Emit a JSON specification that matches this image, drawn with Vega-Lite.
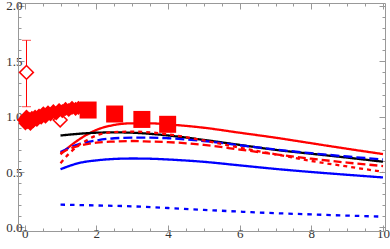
{
  "$schema": "https://vega.github.io/schema/vega-lite/v6.json",
  "width": 367,
  "height": 228,
  "autosize": "none",
  "padding": {"left": 18, "top": 3, "right": 5, "bottom": 18},
  "background": "white",
  "config": {"view": {"stroke": null}},
  "datasets": {
    "curves": [
      {"s": "rs", "x": 1, "y": 0.66}, {"s": "rs", "x": 1.25, "y": 0.73}, {"s": "rs", "x": 1.5, "y": 0.79}, {"s": "rs", "x": 1.75, "y": 0.84}, {"s": "rs", "x": 2, "y": 0.88}, {"s": "rs", "x": 2.5, "y": 0.925}, {"s": "rs", "x": 3, "y": 0.94}, {"s": "rs", "x": 3.5, "y": 0.94}, {"s": "rs", "x": 4, "y": 0.93}, {"s": "rs", "x": 5, "y": 0.9}, {"s": "rs", "x": 6, "y": 0.855}, {"s": "rs", "x": 7, "y": 0.81}, {"s": "rs", "x": 8, "y": 0.76}, {"s": "rs", "x": 9, "y": 0.71}, {"s": "rs", "x": 10, "y": 0.662},
      {"s": "k", "x": 1, "y": 0.83}, {"s": "k", "x": 1.5, "y": 0.845}, {"s": "k", "x": 2, "y": 0.855}, {"s": "k", "x": 2.5, "y": 0.858}, {"s": "k", "x": 3, "y": 0.855}, {"s": "k", "x": 3.5, "y": 0.845}, {"s": "k", "x": 4, "y": 0.83}, {"s": "k", "x": 5, "y": 0.79}, {"s": "k", "x": 6, "y": 0.745}, {"s": "k", "x": 7, "y": 0.7}, {"s": "k", "x": 8, "y": 0.665}, {"s": "k", "x": 9, "y": 0.63}, {"s": "k", "x": 10, "y": 0.593},
      {"s": "bd", "x": 1, "y": 0.68}, {"s": "bd", "x": 1.25, "y": 0.72}, {"s": "bd", "x": 1.5, "y": 0.75}, {"s": "bd", "x": 2, "y": 0.785}, {"s": "bd", "x": 2.5, "y": 0.805}, {"s": "bd", "x": 3, "y": 0.81}, {"s": "bd", "x": 3.5, "y": 0.81}, {"s": "bd", "x": 4, "y": 0.805}, {"s": "bd", "x": 5, "y": 0.78}, {"s": "bd", "x": 6, "y": 0.742}, {"s": "bd", "x": 7, "y": 0.703}, {"s": "bd", "x": 8, "y": 0.67}, {"s": "bd", "x": 9, "y": 0.64}, {"s": "bd", "x": 10, "y": 0.614},
      {"s": "rd", "x": 1, "y": 0.67}, {"s": "rd", "x": 1.25, "y": 0.71}, {"s": "rd", "x": 1.5, "y": 0.735}, {"s": "rd", "x": 2, "y": 0.765}, {"s": "rd", "x": 2.5, "y": 0.775}, {"s": "rd", "x": 3, "y": 0.78}, {"s": "rd", "x": 3.5, "y": 0.775}, {"s": "rd", "x": 4, "y": 0.77}, {"s": "rd", "x": 5, "y": 0.745}, {"s": "rd", "x": 6, "y": 0.703}, {"s": "rd", "x": 7, "y": 0.66}, {"s": "rd", "x": 8, "y": 0.62}, {"s": "rd", "x": 9, "y": 0.585}, {"s": "rd", "x": 10, "y": 0.554},
      {"s": "rdot", "x": 1, "y": 0.58}, {"s": "rdot", "x": 1.25, "y": 0.67}, {"s": "rdot", "x": 1.5, "y": 0.74}, {"s": "rdot", "x": 1.75, "y": 0.79}, {"s": "rdot", "x": 2, "y": 0.83}, {"s": "rdot", "x": 2.5, "y": 0.86}, {"s": "rdot", "x": 3, "y": 0.865}, {"s": "rdot", "x": 3.5, "y": 0.858}, {"s": "rdot", "x": 4, "y": 0.84}, {"s": "rdot", "x": 4.5, "y": 0.815}, {"s": "rdot", "x": 5, "y": 0.785}, {"s": "rdot", "x": 6, "y": 0.72}, {"s": "rdot", "x": 7, "y": 0.66}, {"s": "rdot", "x": 8, "y": 0.6}, {"s": "rdot", "x": 9, "y": 0.55}, {"s": "rdot", "x": 10, "y": 0.502},
      {"s": "bs", "x": 1, "y": 0.525}, {"s": "bs", "x": 1.25, "y": 0.555}, {"s": "bs", "x": 1.5, "y": 0.58}, {"s": "bs", "x": 2, "y": 0.605}, {"s": "bs", "x": 2.5, "y": 0.618}, {"s": "bs", "x": 3, "y": 0.622}, {"s": "bs", "x": 3.5, "y": 0.62}, {"s": "bs", "x": 4, "y": 0.613}, {"s": "bs", "x": 5, "y": 0.592}, {"s": "bs", "x": 6, "y": 0.56}, {"s": "bs", "x": 7, "y": 0.528}, {"s": "bs", "x": 8, "y": 0.5}, {"s": "bs", "x": 9, "y": 0.475}, {"s": "bs", "x": 10, "y": 0.451},
      {"s": "bdot", "x": 1, "y": 0.205}, {"s": "bdot", "x": 2, "y": 0.198}, {"s": "bdot", "x": 3, "y": 0.19}, {"s": "bdot", "x": 4, "y": 0.175}, {"s": "bdot", "x": 5, "y": 0.158}, {"s": "bdot", "x": 6, "y": 0.142}, {"s": "bdot", "x": 7, "y": 0.128}, {"s": "bdot", "x": 8, "y": 0.117}, {"s": "bdot", "x": 9, "y": 0.106}, {"s": "bdot", "x": 10, "y": 0.097}
    ],
    "diamonds": [
      {"x": -0.02, "y": 0.97}, {"x": 0.02, "y": 0.94}, {"x": 0.05, "y": 1.0}, {"x": 0.09, "y": 0.95}, {"x": 0.12, "y": 0.98}, {"x": 0.16, "y": 0.935}, {"x": 0.2, "y": 0.99}, {"x": 0.24, "y": 0.96}, {"x": 0.29, "y": 1.0}, {"x": 0.34, "y": 0.97}, {"x": 0.4, "y": 1.01}, {"x": 0.46, "y": 0.99}, {"x": 0.52, "y": 1.03}, {"x": 0.58, "y": 1.0}, {"x": 0.65, "y": 1.04}, {"x": 0.72, "y": 1.02}, {"x": 0.8, "y": 1.05}, {"x": 0.88, "y": 1.03}, {"x": 0.96, "y": 1.06}, {"x": 1.05, "y": 1.05}, {"x": 1.14, "y": 1.07}, {"x": 1.23, "y": 1.06}, {"x": 1.32, "y": 1.08}, {"x": 1.42, "y": 1.07}, {"x": 1.5, "y": 1.08}
    ],
    "squares": [
      {"x": 1.77, "y": 1.06}, {"x": 2.51, "y": 1.024}, {"x": 3.27, "y": 0.975}, {"x": 3.99, "y": 0.931}
    ],
    "open": [
      {"x": 0.05, "y": 1.4, "lo": 1.09, "hi": 1.69}, {"x": 0.99, "y": 0.97, "lo": 0.97, "hi": 0.97}
    ]
  },
  "layer": [
    {
      "data": {"name": "curves"},
      "mark": {"type": "point", "opacity": 0},
      "encoding": {
        "x": {"field": "x", "type": "quantitative", "scale": {"domain": [-0.187, 10.056], "nice": false, "zero": false},
          "axis": {"orient": "top", "values": [0,0.5,1,1.5,2,2.5,3,3.5,4,4.5,5,5.5,6,6.5,7,7.5,8,8.5,9,9.5,10], "labels": false, "title": null, "grid": false, "domainColor": "#999", "tickColor": "#999",
            "tickSize": {"condition": {"test": "datum.value % 2 === 0", "value": -6}, "value": -3}}},
        "y": {"field": "y", "type": "quantitative", "scale": {"domain": [-0.033, 2.027], "nice": false, "zero": false},
          "axis": {"orient": "right", "values": [0,0.1,0.2,0.3,0.4,0.5,0.6,0.7,0.8,0.9,1,1.1,1.2,1.3,1.4,1.5,1.6,1.7,1.8,1.9,2], "labels": false, "title": null, "grid": false, "domainColor": "#999", "tickColor": "#999",
            "tickSize": {"condition": {"test": "abs(datum.value*2-round(datum.value*2))<0.001", "value": -6}, "value": -3}}}
      }
    },
    {
      "data": {"name": "curves"},
      "mark": {"type": "line", "strokeWidth": 2.3, "interpolate": "monotone"},
      "encoding": {
        "x": {"field": "x", "type": "quantitative", "scale": {"domain": [-0.187, 10.056], "nice": false, "zero": false},
          "axis": {"orient": "bottom", "values": [0,0.5,1,1.5,2,2.5,3,3.5,4,4.5,5,5.5,6,6.5,7,7.5,8,8.5,9,9.5,10], "title": null, "grid": false, "domainColor": "#999", "tickColor": "#999",
            "labelExpr": "datum.value % 2 === 0 ? format(datum.value, 'd') : ''", "labelOverlap": false, "labelFlush": false,
            "labelFont": "Liberation Serif", "labelFontSize": 13, "labelColor": "#333", "labelPadding": 2,
            "tickSize": {"condition": {"test": "datum.value % 2 === 0", "value": -6}, "value": -3}}},
        "y": {"field": "y", "type": "quantitative", "scale": {"domain": [-0.033, 2.027], "nice": false, "zero": false},
          "axis": {"orient": "left", "values": [0,0.1,0.2,0.3,0.4,0.5,0.6,0.7,0.8,0.9,1,1.1,1.2,1.3,1.4,1.5,1.6,1.7,1.8,1.9,2], "title": null, "grid": false, "domainColor": "#999", "tickColor": "#999",
            "labelExpr": "abs(datum.value*2-round(datum.value*2))<0.001 ? format(datum.value, '.1f') : ''", "labelOverlap": false, "labelFlush": false,
            "labelFont": "Liberation Serif", "labelFontSize": 13, "labelColor": "#333", "labelPadding": 2,
            "tickSize": {"condition": {"test": "abs(datum.value*2-round(datum.value*2))<0.001", "value": -6}, "value": -3}}},
        "color": {"field": "s", "type": "nominal", "legend": null,
          "scale": {"domain": ["rs", "k", "bd", "rd", "rdot", "bs", "bdot"], "range": ["#ff0000", "#000000", "#0000ff", "#ff0000", "#ff0000", "#0000ff", "#0000ff"]}},
        "strokeDash": {"field": "s", "type": "nominal", "legend": null,
          "scale": {"domain": ["rs", "k", "bd", "rd", "rdot", "bs", "bdot"], "range": [[1, 0], [1, 0], [9, 4], [8, 4], [4, 4], [1, 0], [4.5, 5]]}}
      }
    },
    {
      "data": {"name": "open"},
      "mark": {"type": "rule", "color": "#ff0000", "strokeWidth": 1},
      "encoding": {
        "x": {"field": "x", "type": "quantitative", "axis": null},
        "y": {"field": "lo", "type": "quantitative", "axis": null},
        "y2": {"field": "hi"}
      }
    },
    {
      "data": {"name": "open"},
      "mark": {"type": "tick", "orient": "horizontal", "color": "#ff0000", "size": 9, "thickness": 1},
      "encoding": {
        "x": {"field": "x", "type": "quantitative", "axis": null},
        "y": {"field": "lo", "type": "quantitative", "axis": null}
      }
    },
    {
      "data": {"name": "open"},
      "mark": {"type": "tick", "orient": "horizontal", "color": "#ff0000", "size": 9, "thickness": 1},
      "encoding": {
        "x": {"field": "x", "type": "quantitative", "axis": null},
        "y": {"field": "hi", "type": "quantitative", "axis": null}
      }
    },
    {
      "data": {"name": "open"},
      "mark": {"type": "point", "shape": "diamond", "size": 190, "filled": false, "fill": "white", "fillOpacity": 1, "stroke": "#ff0000", "strokeWidth": 1.5, "opacity": 1},
      "encoding": {
        "x": {"field": "x", "type": "quantitative", "axis": null},
        "y": {"field": "y", "type": "quantitative", "axis": null}
      }
    },
    {
      "data": {"name": "diamonds"},
      "mark": {"type": "point", "shape": "diamond", "size": 200, "filled": true, "color": "#ff0000", "opacity": 1},
      "encoding": {
        "x": {"field": "x", "type": "quantitative", "axis": null},
        "y": {"field": "y", "type": "quantitative", "axis": null}
      }
    },
    {
      "data": {"name": "squares"},
      "mark": {"type": "point", "shape": "square", "size": 289, "filled": true, "color": "#ff0000", "opacity": 1},
      "encoding": {
        "x": {"field": "x", "type": "quantitative", "axis": null},
        "y": {"field": "y", "type": "quantitative", "axis": null}
      }
    }
  ],
  "resolve": {"axis": {"x": "independent", "y": "independent"}}
}
